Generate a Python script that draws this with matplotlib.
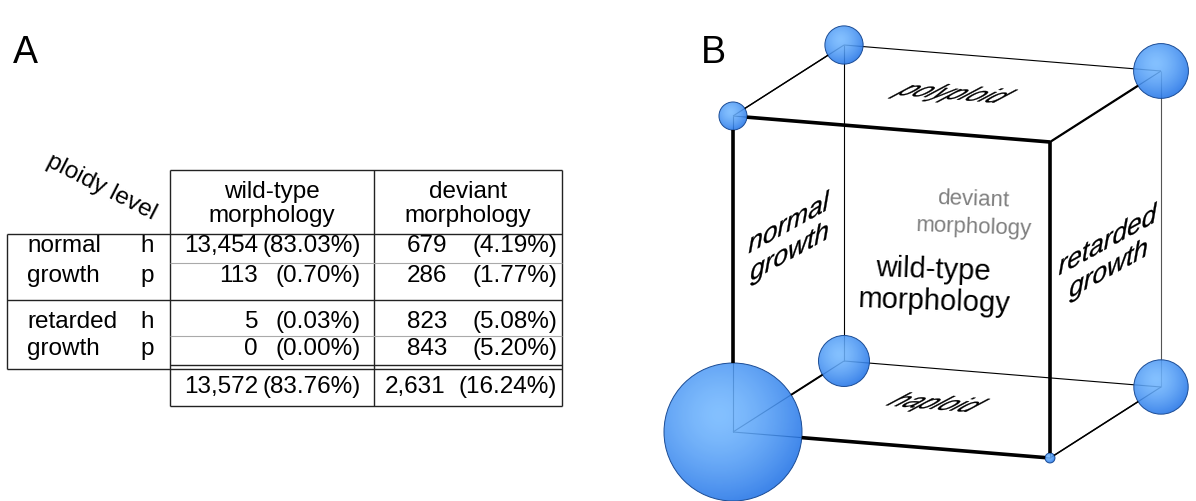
import numpy as np
import matplotlib
matplotlib.use("Agg")
import matplotlib.pyplot as plt  # noqa: E402
from matplotlib.patches import Circle, PathPatch  # noqa: E402
from matplotlib.textpath import TextPath  # noqa: E402
from matplotlib.font_manager import FontProperties  # noqa: E402
from matplotlib.transforms import Affine2D  # noqa: E402

plt.rcParams["font.family"] = ["Liberation Sans", "DejaVu Sans"]

# ---- data (rows: normal h, normal p, retarded h, retarded p) ----
growth_groups = ["normal", "retarded"]
ploidy = ["h", "p", "h", "p"]
wild_n = [13454, 113, 5, 0]
wild_pct = [83.03, 0.70, 0.03, 0.00]
dev_n = [679, 286, 823, 843]
dev_pct = [4.19, 1.77, 5.08, 5.20]
total_n = [13572, 2631]
total_pct = [83.76, 16.24]
col_labels = ["wild-type\nmorphology", "deviant\nmorphology"]

FS = 17.5
W_PX, H_PX = 1196, 502

fig = plt.figure(figsize=(W_PX / 100, H_PX / 100), dpi=100)
ax = fig.add_axes([0, 0, 1, 1])


def hline(y, x0, x1, **kw):
    kw.setdefault("color", "#222222")
    kw.setdefault("lw", 1.0)
    ax.plot([x0, x1], [y, y], solid_capstyle="butt", **kw)


def vline(x, y0, y1, **kw):
    kw.setdefault("color", "#222222")
    kw.setdefault("lw", 1.0)
    ax.plot([x, x], [y0, y1], solid_capstyle="butt", **kw)


# ================= panel A: table =================
ax.text(25, 53, "A", fontsize=27, ha="center", va="center")

hline(171, 170, 562)
vline(170, 171, 407)
vline(374, 171, 407)
vline(562, 171, 407)
hline(235, 7, 562)
hline(301, 7, 562)
vline(7, 235, 370)
hline(370, 7, 562)
hline(366, 170, 562)
hline(407, 170, 562)
hline(264, 170, 562, color="#aaaaaa", lw=0.8)
hline(337, 170, 562, color="#aaaaaa", lw=0.8)

ax.text(101, 187, "ploidy level", fontsize=FS, rotation=-27,
        ha="center", va="center", rotation_mode="anchor")
for cx, lab in zip([272, 468], col_labels):
    ax.text(cx, 204, lab, fontsize=FS, ha="center", va="center",
            linespacing=1.1)

row_y = [246, 276, 322, 349]
for k, g in enumerate(growth_groups):
    ax.text(27, row_y[2 * k], g, fontsize=FS, va="center")
    ax.text(27, row_y[2 * k + 1], "growth", fontsize=FS, va="center")
for i, y in enumerate(row_y):
    ax.text(147, y, ploidy[i], fontsize=FS, ha="center", va="center")
    ax.text(258, y, f"{wild_n[i]:,}", fontsize=FS, ha="right", va="center")
    ax.text(361, y, f"({wild_pct[i]:.2f}%)", fontsize=FS, ha="right", va="center")
    ax.text(447, y, f"{dev_n[i]:,}", fontsize=FS, ha="right", va="center")
    ax.text(557, y, f"({dev_pct[i]:.2f}%)", fontsize=FS, ha="right", va="center")
for xn, xp, n, p in zip([258, 445], [361, 557], total_n, total_pct):
    ax.text(xn, 387, f"{n:,}", fontsize=FS, ha="right", va="center")
    ax.text(xp, 387, f"({p:.2f}%)", fontsize=FS, ha="right", va="center")

# ================= panel B: cube =================
ax.text(713, 53, "B", fontsize=27, ha="center", va="center")

O = np.array([733.0, 433.0])      # front-bottom-left corner
VW = np.array([317.0, 26.0])      # growth axis (normal -> retarded)
VH = np.array([0.0, -316.0])      # ploidy axis (haploid -> polyploid)
VD = np.array([111.0, -71.0])     # morphology axis (wild-type -> deviant)
R_MAX = 69.0
n_max = max(wild_n + dev_n)


def corner(g, p, m):
    return O + g * VW + p * VH + m * VD


def count(g, p, m):
    return (wild_n if m == 0 else dev_n)[2 * g + p]


def radius(g, p, m):
    # sphere volume ~ count
    return R_MAX * (count(g, p, m) / n_max) ** (1 / 3)


def seg(a, b, lw, color="black", clip=True, z=1):
    pa, pb = corner(*a), corner(*b)
    if clip:
        u = (pb - pa) / np.hypot(*(pb - pa))
        pa = pa + u * radius(*a)
        pb = pb - u * radius(*b)
    ax.plot([pa[0], pb[0]], [pa[1], pb[1]], color=color, lw=lw,
            solid_capstyle="butt", zorder=z)


edges = []
for g in (0, 1):
    for p in (0, 1):
        edges.append(((g, p, 0), (g, p, 1)))
for g in (0, 1):
    for m in (0, 1):
        edges.append(((g, 0, m), (g, 1, m)))
for p in (0, 1):
    for m in (0, 1):
        edges.append(((0, p, m), (1, p, m)))

depth_lw = {(0, 0): 1.4, (1, 0): 1.1, (0, 1): 1.0, (1, 1): 1.6}
for a, b in edges:
    # thin line all the way (shows through the spheres)
    col = "#555555" if (a == (1, 0, 1) and b == (1, 1, 1)) else "black"
    seg(a, b, 0.8, color=col, clip=False, z=1)
    if a[2] == 0 and b[2] == 0:
        seg(a, b, 2.6, z=3)
    elif a[2] != b[2]:
        seg(a, b, depth_lw[(a[0], a[1])], z=3)

# sphere shading
yy, xx = np.mgrid[-1:1:200j, -1:1:200j]
d = np.clip(np.hypot(xx + 0.2, yy + 0.25) / 1.35, 0, 1)
light = np.array([0.45, 0.72, 1.0])
dark = np.array([0.12, 0.44, 0.90])
img = np.zeros((200, 200, 4))
img[..., :3] = light * (1 - d[..., None] ** 1.5) + dark * d[..., None] ** 1.5
img[..., 3] = 0.88

for g in (0, 1):
    for p in (0, 1):
        for m in (0, 1):
            r = radius(g, p, m)
            if r <= 0:
                continue
            x, y = corner(g, p, m)
            circ = Circle((x, y), r, fc="none", ec="#1b4c95", lw=0.7, zorder=2.5)
            ax.add_patch(circ)
            im = ax.imshow(img, extent=(x - r, x + r, y + r, y - r),
                           origin="upper", zorder=2, aspect="auto",
                           interpolation="bilinear")
            im.set_clip_path(circ)

FP_IT = FontProperties(family="Liberation Sans", style="italic")


def face_text(s, xy, ex, ey, sx, sy, color="black"):
    """Italic text mapped onto a cube face spanned by ex (baseline) and ey (up)."""
    tp = TextPath((0, 0), s, size=1, prop=FP_IT)
    bb = tp.get_extents()
    ex = np.asarray(ex, float) / np.hypot(*ex)
    ey = np.asarray(ey, float) / np.hypot(*ey)
    mtx = np.array([[ex[0] * sx, ey[0] * sy, 0],
                    [ex[1] * sx, ey[1] * sy, 0],
                    [0, 0, 1]])
    tr = (Affine2D().translate(-(bb.x0 + bb.x1) / 2, -0.26)
          + Affine2D(mtx) + Affine2D().translate(*xy))
    ax.add_patch(PathPatch(tr.transform_path(tp), fc=color, ec=color,
                           lw=0.2, zorder=4))


side_ex = (np.cos(np.radians(29)), -np.sin(np.radians(29)))
face_text("polyploid", (953, 95), VW, VD, 26, 34)
face_text("haploid", (935, 405), VW, VD, 26, 34)
face_text("normal", (789, 225), side_ex, (0, -1), 30, 27)
face_text("growth", (789, 254), side_ex, (0, -1), 30, 27)
face_text("retarded", (1108, 242), side_ex, (0, -1), 30, 27)
face_text("growth", (1108, 271), side_ex, (0, -1), 30, 27)

ax.text(933, 270, "wild-type", fontsize=21, ha="center", va="center",
        rotation=-2, rotation_mode="anchor", zorder=4)
ax.text(934, 302, "morphology", fontsize=21, ha="center", va="center",
        rotation=-2, rotation_mode="anchor", zorder=4)
ax.text(973, 200, "deviant", fontsize=16, ha="center", va="center",
        color="#808080", rotation=-2, rotation_mode="anchor", zorder=4)
ax.text(974, 228, "morphology", fontsize=16, ha="center", va="center",
        color="#808080", rotation=-2, rotation_mode="anchor", zorder=4)

ax.set_xlim(0, W_PX)
ax.set_ylim(H_PX, 0)
ax.axis("off")
fig.savefig("out.png", dpi=100)
